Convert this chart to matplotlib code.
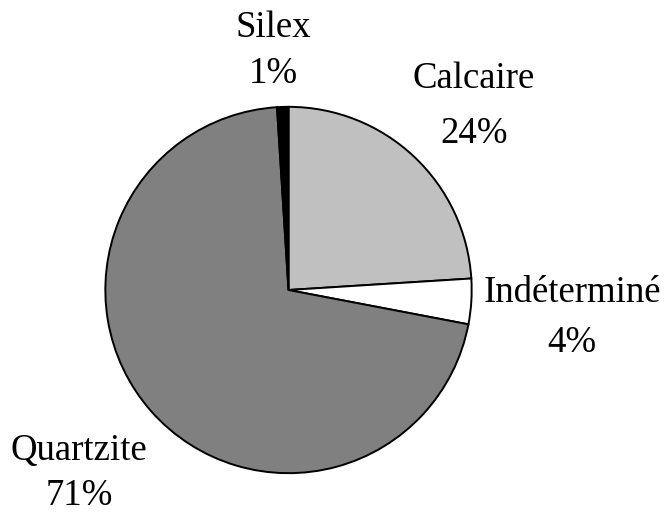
import matplotlib.pyplot as plt

# composition of the material (percent)
categories = ["Calcaire", "Indéterminé", "Quartzite", "Silex"]
percents = [24, 4, 71, 1]
colors = ["#c0c0c0", "#ffffff", "#808080", "#000000"]

# label placement in pixels: (x centre, name baseline, percent baseline)
label_pos = [(474, 88, 143), (572, 302, 352), (79, 460, 505), (273, 37, 83)]

W, H = 665, 512
fig = plt.figure(figsize=(W / 100, H / 100), dpi=100)

cx, cy, r = 288.5, 290, 185
ax = fig.add_axes([(cx - r) / W, (H - cy - r) / H, 2 * r / W, 2 * r / H])
ax.pie(percents, colors=colors, startangle=90, counterclock=False,
       wedgeprops=dict(edgecolor="black", linewidth=1.4))
ax.set_xlim(-1.01, 1.01)
ax.set_ylim(-1.01, 1.01)
ax.set_aspect("equal")
ax.axis("off")

font = dict(family="Liberation Serif", size=26.5, ha="center", va="baseline")
for name, pct, (x, y1, y2) in zip(categories, percents, label_pos):
    fig.text(x / W, 1 - y1 / H, name, **font)
    fig.text(x / W, 1 - y2 / H, f"{pct}%", **font)

fig.savefig("out.png", dpi=100)
